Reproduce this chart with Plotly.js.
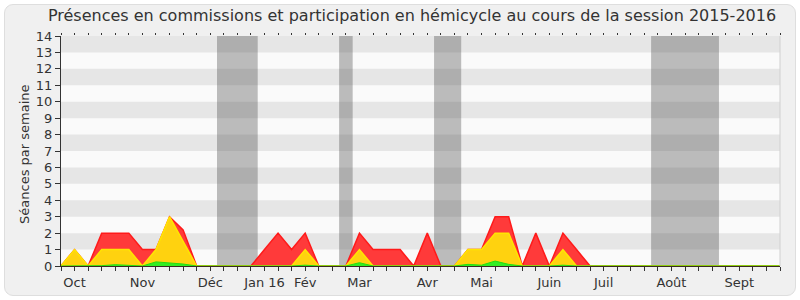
<!DOCTYPE html>
<html>
<head>
<meta charset="utf-8">
<script src="https://cdn.plot.ly/plotly-3.0.1.min.js"></script>
<style>
  html, body { margin: 0; padding: 0; background: #ffffff; }
  #bg { position: absolute; left: 4px; top: 4px; width: 790px; height: 290px;
        background: #f0f0f0; border: 1px solid #dedede; border-radius: 9px; }
  #chart { position: absolute; left: 0; top: 0; width: 800px; height: 300px; }
</style>
</head>
<body>
<div id="bg"></div>
<div id="chart"></div>
<script>
// Week index from start of session (Oct 2015 .. Sept 2016)
const weeks = [0,1,2,3,4,5,6,7,8,9,10,11,12,13,14,15,16,17,18,19,20,21,22,23,24,25,26,
               27,28,29,30,31,32,33,34,35,36,37,38,39,40,41,42,43,44,45,46,47,48,49,50,51,52,53];
// Upper envelope of each coloured area (stacked totals)
const redTotal = [0,1,0,2,2,2,1,1,3,2.2,0,0,0,0,0,1,2,1,2,0,0,0,2,1,1,1,0,
                  2,0,0,1,1,3,3,0,2,0,2,1,0,0,0,0,0,0,0,0,0,0,0,0,0,0,0];
const yellowTotal = [0,1,0,1,1,1,0,1,3,1.5,0,0,0,0,0,0,0,0,1,0,0,0,1,0,0,0,0,
                     0,0,0,1,1,2,2,0,0,0,1,0,0,0,0,0,0,0,0,0,0,0,0,0,0,0,0];
const greenTotal = [0,0,0,0.02,0.08,0.03,0,0.25,0.2,0.12,0,0,0,0,0,0,0,0,0.05,0,0,0,0.2,0,0,0,0,
                    0,0,0,0.1,0.05,0.3,0.1,0,0,0,0.05,0,0,0,0,0,0,0,0,0,0,0,0,0,0,0,0];
// Month tick labels and their week positions
const monthPos = [1,6,11,15,18,22,27,31,36,40,45,50];
const monthLabels = ["Oct","Nov","Déc","Jan 16","Fév","Mar","Avr","Mai","Juin","Juil","Août","Sept"];
// Parliamentary recess periods (in week units)
const vacStart = [11.5,20.5,27.5,43.5];
const vacEnd   = [14.5,21.5,29.5,48.5];

const shapes = [];
for (let k = 1; k < 14; k += 2) {
  shapes.push({type:'rect', xref:'paper', yref:'y', x0:0, x1:1, y0:k, y1:k+1,
               fillcolor:'#e6e6e6', line:{width:0}, layer:'below'});
}
for (let i = 0; i < vacStart.length; i++) {
  shapes.push({type:'rect', xref:'x', yref:'paper', x0:vacStart[i], x1:vacEnd[i], y0:0, y1:1,
               fillcolor:'rgba(60,60,60,0.33)', line:{width:0}, layer:'below'});
}
shapes.push({type:'line', xref:'paper', yref:'paper', x0:1, x1:1, y0:0, y1:1,
             line:{color:'#d0d0d0', width:1}});

const traces = [
  {x: weeks, y: redTotal, type:'scatter', mode:'lines', fill:'tozeroy',
   fillcolor:'#ff3a3a', line:{color:'#ff1a1a', width:1.5}, hoverinfo:'skip'},
  {x: weeks, y: yellowTotal, type:'scatter', mode:'lines', fill:'tozeroy',
   fillcolor:'#ffd20f', line:{color:'#ffe600', width:1.5}, hoverinfo:'skip'},
  {x: weeks, y: greenTotal, type:'scatter', mode:'lines', fill:'tozeroy',
   fillcolor:'#33ee22', line:{color:'#22dd11', width:1}, hoverinfo:'skip'},
  {x: [0], y: [0], xaxis:'x2', type:'scatter', mode:'markers',
   marker:{opacity:0}, hoverinfo:'skip', showlegend:false}
];

const layout = {
  width: 800, height: 300,
  margin: {l:61, r:20, t:36, b:34},
  paper_bgcolor: 'rgba(0,0,0,0)',
  plot_bgcolor: '#fafafa',
  showlegend: false,
  font: {family: 'DejaVu Sans, sans-serif', color:'#333333', size:13},
  title: {text: 'Présences en commissions et participation en hémicycle au cours de la session 2015-2016',
          font: {family:'DejaVu Sans, sans-serif', size:16, color:'#333333'},
          x: 0.515, xanchor:'center', y: 0.95, yanchor:'middle'},
  xaxis: {range:[0,53], tickmode:'array', tickvals: monthPos, ticktext: monthLabels,
          ticks:'outside', ticklen:4, tickcolor:'#333333', showgrid:false, zeroline:false,
          showline:true, linecolor:'#3a2a22', linewidth:1,
          minor:{dtick:1, tick0:0, ticks:'outside', ticklen:4, tickcolor:'#333333', showgrid:false},
          tickfont:{size:13, color:'#333333'}, fixedrange:true},
  xaxis2: {range:[0,53], overlaying:'x', side:'top', tickmode:'linear', tick0:0, dtick:1,
           ticks:'outside', ticklen:2, tickcolor:'#333333', showticklabels:false,
           showgrid:false, zeroline:false, showline:false},
  yaxis: {range:[0,14], tickmode:'linear', tick0:0, dtick:1, ticks:'outside', ticklen:5,
          tickcolor:'#333333', showgrid:false, zeroline:false, showline:true,
          linecolor:'#333333', linewidth:1, tickfont:{size:13, color:'#333333'},
          fixedrange:true},
  annotations: [{text:'Séances par semaine', textangle:-90, xref:'paper', yref:'paper',
                 x:-0.05, y:0.483, xanchor:'center', yanchor:'middle', showarrow:false,
                 font:{size:13, color:'#333333'}}],
  shapes: shapes
};

Plotly.newPlot('chart', traces, layout, {displayModeBar:false, staticPlot:true});
</script>
</body>
</html>
